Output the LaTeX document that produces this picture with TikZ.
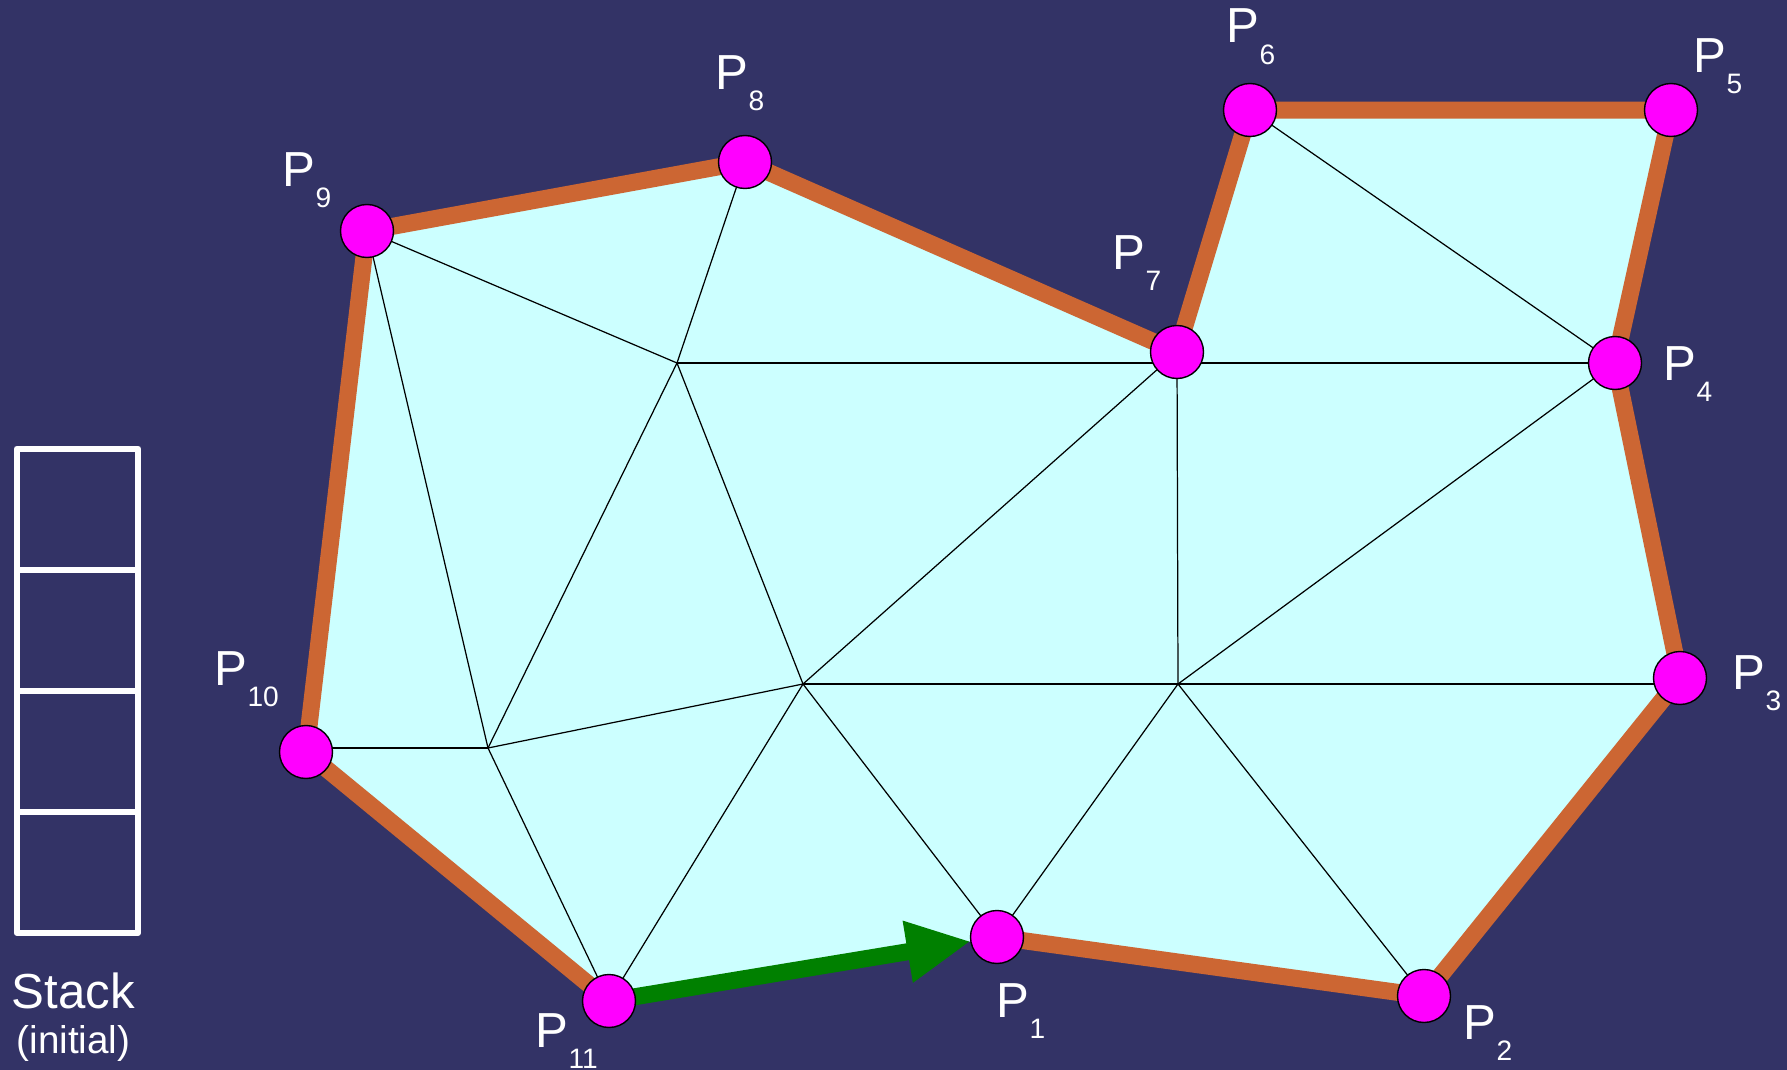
\documentclass[tikz,border=0pt]{standalone}
\usepackage{fontspec}
\setmainfont{Liberation Sans}
\usetikzlibrary{positioning,arrows.meta}
\definecolor{slidebg}{RGB}{51,51,102}
\definecolor{meshfill}{RGB}{204,255,255}
\definecolor{hullorange}{RGB}{204,102,51}
\definecolor{walkgreen}{RGB}{0,128,0}
\definecolor{vertexpink}{RGB}{255,0,255}
\newcommand{\plab}[1]{P\raisebox{-6pt}{\fontsize{8}{8}\selectfont #1}}

\begin{document}
\begin{tikzpicture}[x=0.1mm,y=-0.1mm,
    edge/.style={black,line width=0.35pt},
    hull/.style={hullorange,line width=1.7mm,line join=round},
    walk/.style={walkgreen,line width=1.7mm,-{Triangle[length=6.4mm,width=5.8mm]},shorten >=2.65mm},
    vertex/.style={circle,draw=black,line width=0.4pt,fill=vertexpink,minimum size=5.3mm,inner sep=0pt},
    ptlabel/.style={anchor=base west,inner sep=0pt,text=white,font=\fontsize{14}{14}\selectfont},
    stackbox/.style={draw=white,line width=0.65mm,line join=round,minimum size=12.1mm,inner sep=0pt,outer sep=0pt},
    stacktext/.style={anchor=base,inner sep=0pt,text=white}]
    \useasboundingbox (0,0) rectangle (1787,1070);
    \fill[slidebg] (0,0) rectangle (1787,1070);
    \foreach \i/\x/\y in {1/997/937, 2/1424/996, 3/1680/678, 4/1615/363, 5/1671/110,
        6/1250/110, 7/1177/352, 8/745/162, 9/367/231, 10/306/752, 11/609/1001} {
        \coordinate (p\i) at (\x,\y);
    }
    \coordinate (a) at (677,363);
    \coordinate (b) at (488,748);
    \coordinate (c) at (1178,684);
    \coordinate (d) at (803,684);
    \fill[meshfill] (p1) -- (p2) -- (p3) -- (p4) -- (p5) -- (p6) -- (p7) -- (p8) -- (p9) -- (p10) -- (p11) -- cycle;
    \foreach \u/\v in {p9/a, p8/a, p6/p4, p9/b, a/b, a/d, b/p11, b/d, d/p11, d/p7,
        d/c, d/p1, p7/c, c/p4, c/p2, c/p1} {
        \draw[edge] (\u) -- (\v);
    }
    \draw[edge] (a) -- (a -| p4);
    \draw[edge] (b) -- (b -| p10);
    \draw[edge] (c) -- (c -| p3);
    \draw[hull] (p1) -- (p2) -- (p3) -- (p4) -- (p5) -- (p6) -- (p7) -- (p8) -- (p9) -- (p10) -- (p11);
    \draw[walk] (p11) -- (p1);
    \foreach \i in {1,...,11} {
        \node[vertex] (v\i) at (p\i) {};
    }
    \foreach \i/\x/\y in {1/996/1017, 2/1463/1039, 3/1732/689, 4/1663/380, 5/1693/72,
        6/1226/43, 7/1112/269, 8/715/89, 9/282/186, 10/214/685, 11/535/1047} {
        \node[ptlabel] (l\i) at (\x,\y) {\plab{\i}};
    }
    \node[stackbox] (s1) at (77.5,509.3) {};
    \node[stackbox,below=0pt of s1] (s2) {};
    \node[stackbox,below=0pt of s2] (s3) {};
    \node[stackbox,below=0pt of s3] (s4) {};
    \node[stacktext,font=\fontsize{14}{14}\selectfont] (stk) at (73.5,1008) {Stack};
    \node[stacktext,font=\fontsize{11}{11}\selectfont] (ini) at (73.5,1053) {(initial)};
\end{tikzpicture}
\end{document}
